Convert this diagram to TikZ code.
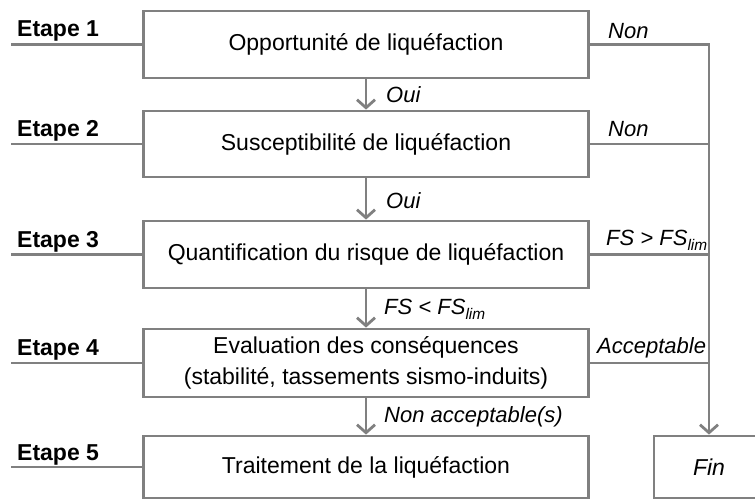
\documentclass[tikz,border=0pt]{standalone}
\usepackage{fontspec}
\setmainfont{Liberation Sans}
\usetikzlibrary{arrows.meta}
\definecolor{lc}{HTML}{808080}
\newcommand{\mainsz}{\fontsize{23}{31}\selectfont}
\newcommand{\labsz}{\fontsize{22}{26}\selectfont}
\begin{document}
\begin{tikzpicture}[x=1pt,y=-1pt,
  conn/.style={draw=lc, line width=2.8pt},
  arr/.style={conn, -{Straight Barb[length=8pt,width=18pt]}},
  box/.style={draw=lc, line width=2.8pt, minimum width=445pt, align=center, font=\mainsz, inner sep=0pt},
  etape/.style={anchor=base west, font=\mainsz\bfseries, inner sep=0pt},
  lab/.style={anchor=base west, font=\labsz\itshape, inner sep=0pt}]
\useasboundingbox (0,0) rectangle (755,502);
% boxes
\node[box, minimum height=67pt] (b1) at (366,44.5) {Opportunité de liquéfaction};
\node[box, minimum height=66pt] (b2) at (366,144) {Susceptibilité de liquéfaction};
\node[box, minimum height=67pt] (b3) at (366,254.5) {Quantification du risque de liquéfaction};
\node[box, minimum height=68pt] (b4) at (366,363) {Evaluation des conséquences\\(stabilité, tassements sismo-induits)};
\node[box, minimum height=62pt] (b5) at (366,467) {Traitement de la liquéfaction};
\node[box, minimum width=110pt, minimum height=62pt, font=\mainsz\itshape] (fin) at (709,467) {Fin};
% etapes
\coordinate (e1) at (11,44.5);
\coordinate (e2) at (11,144);
\coordinate (e3) at (11,254.5);
\coordinate (e4) at (11,363);
\coordinate (e5) at (11,467);
\draw[conn] (e1) -- (b1.west);
\draw[conn] (e2) -- (b2.west);
\draw[conn] (e3) -- (b3.west);
\draw[conn] (e4) -- (b4.west);
\draw[conn] (e5) -- (b5.west);
\node[etape] (t1) at (17,37) {Etape 1};
\node[etape] (t2) at (17,137) {Etape 2};
\node[etape] (t3) at (17,248) {Etape 3};
\node[etape] (t4) at (17,356) {Etape 4};
\node[etape] (t5) at (17,460) {Etape 5};
% down arrows
\draw[arr] (b1.south) -- (b2.north);
\draw[arr] (b2.south) -- (b3.north);
\draw[arr] (b3.south) -- (b4.north);
\draw[arr] (b4.south) -- (b5.north);
\node[lab] (l1) at (386,103) {Oui};
\node[lab] (l2) at (386,209) {Oui};
\node[lab] (l3) at (384,315) {FS < FS\textsubscript{lim}};
\node[lab] (l4) at (384,423) {Non acceptable(s)};
% right side
\coordinate (r1) at (709,44.5);
\draw[arr] (b1.east) -- (r1) -- (fin.north);
\draw[conn] (b2.east) -- (b2.east -| r1);
\draw[conn] (b3.east) -- (b3.east -| r1);
\draw[conn] (b4.east) -- (b4.east -| r1);
\node[lab] (n1) at (608,39) {Non};
\node[lab] (n2) at (608,137) {Non};
\node[lab] (n3) at (606,246) {FS > FS\textsubscript{lim}};
\node[lab] (n4) at (597,354) {Acceptable};
\end{tikzpicture}
\end{document}
